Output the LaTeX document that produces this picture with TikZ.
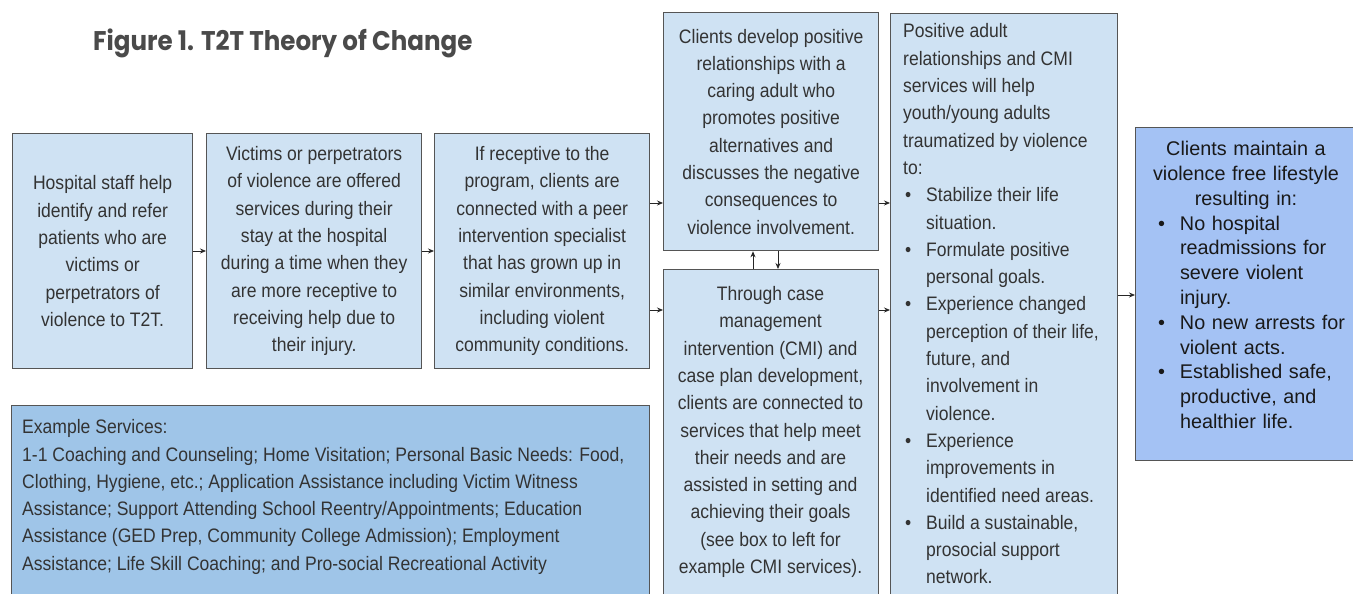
\documentclass[tikz,border=0pt]{standalone}
\usepackage{fontspec}
\setmainfont{Liberation Sans}
\newfontfamily\bodyfont[FakeStretch=0.9]{Liberation Sans}
\newfontfamily\outfont{Liberation Sans}
\newfontfamily\titlefont[FakeStretch=0.91]{Poppins}
\usetikzlibrary{arrows.meta}
\definecolor{paleblue}{HTML}{CFE2F3}
\definecolor{midblue}{HTML}{9FC5E8}
\definecolor{brightblue}{HTML}{A4C2F4}
\definecolor{edgegray}{HTML}{555555}
\definecolor{inkgray}{HTML}{333333}
\definecolor{titlegray}{HTML}{4A4A4A}
% bullet with its hanging indent
\newcommand{\bitem}[2]{\makebox[#1][l]{\hspace*{#2}\textbullet}}
\begin{document}
\begin{tikzpicture}[x=1pt,y=-1pt,
  box/.style={draw=edgegray, line width=1.3pt, fill=paleblue, rectangle,
    inner sep=0pt, anchor=north west},
  gtext/.style={font=\bodyfont\fontsize{19.5}{27.3}\selectfont, text=inkgray,
    inner sep=0pt},
  ctext/.style={gtext, align=center},
  arr/.style={-{Stealth[length=6pt,width=5pt]}, line width=0.8pt, draw=black!85},
]
\clip (0,0) rectangle (1353,594);

% title
\node[font=\titlefont\bfseries\fontsize{27}{30}\selectfont, text=titlegray,
  anchor=base west, inner sep=0pt] (title) at (93,50.5) {Figure 1. T2T Theory of Change};

% boxes
\node[box, minimum width=180pt, minimum height=235pt] (b1) at (12,133) {};
\node[box, minimum width=215pt, minimum height=235pt] (b2) at (206,133) {};
\node[box, minimum width=215pt, minimum height=235pt] (b3) at (434,133) {};
\node[box, minimum width=215pt, minimum height=238pt] (b4) at (663,12) {};
\node[box, minimum width=215pt, minimum height=326pt] (b5) at (663,269) {};
\node[box, minimum width=227pt, minimum height=590pt] (b6) at (890,13) {};
\node[box, fill=brightblue, minimum width=225pt, minimum height=333pt] (b7) at (1135,127) {};
\node[box, fill=midblue, minimum width=638pt, minimum height=210pt] (b8) at (10.5,405) {};

% box texts
\node[ctext] (t1) at (b1.center) {Hospital staff help\\identify and refer\\patients who are\\victims or\\perpetrators of\\violence to T2T.};
\node[ctext] (t2) at (b2.center) {Victims or perpetrators\\of violence are offered\\services during their\\stay at the hospital\\during a time when they\\are more receptive to\\receiving help due to\\their injury.};
\node[ctext] (t3) at (b3.center) {If receptive to the\\program, clients are\\connected with a peer\\intervention specialist\\that has grown up in\\similar environments,\\including violent\\community conditions.};
\node[ctext] (t4) at (b4.center) {Clients develop positive\\relationships with a\\caring adult who\\promotes positive\\alternatives and\\discusses the negative\\consequences to\\violence involvement.};
\node[ctext] (t5) at (770.5,432) {Through case\\management\\intervention (CMI) and\\case plan development,\\clients are connected to\\services that help meet\\their needs and are\\assisted in setting and\\achieving their goals\\(see box to left for\\example CMI services).};
\node[gtext, align=left, anchor=west] (t6) at (903,304) {Positive adult\\relationships and CMI\\services will help\\youth/young adults\\traumatized by violence\\to:\\
\bitem{23pt}{2pt}Stabilize their life\\\hspace*{23pt}situation.\\
\bitem{23pt}{2pt}Formulate positive\\\hspace*{23pt}personal goals.\\
\bitem{23pt}{2pt}Experience changed\\\hspace*{23pt}perception of their life,\\\hspace*{23pt}future, and\\\hspace*{23pt}involvement in\\\hspace*{23pt}violence.\\
\bitem{23pt}{2pt}Experience\\\hspace*{23pt}improvements in\\\hspace*{23pt}identified need areas.\\
\bitem{23pt}{2pt}Build a sustainable,\\\hspace*{23pt}prosocial support\\\hspace*{23pt}network.};
\node[font=\outfont\fontsize{19.8}{24.8}\selectfont, text=black!90, inner sep=0pt,
  text width=204pt] (t7) at (1246,285) {%
  {\centering Clients maintain a\\violence free lifestyle\\resulting in:\par}
  \raggedright
  \bitem{36pt}{14pt}No hospital\\\hspace*{36pt}readmissions for\\\hspace*{36pt}severe violent\\\hspace*{36pt}injury.\\
  \bitem{36pt}{14pt}No new arrests for\\\hspace*{36pt}violent acts.\\
  \bitem{36pt}{14pt}Established safe,\\\hspace*{36pt}productive, and\\\hspace*{36pt}healthier life.\par};
\node[gtext, align=left, anchor=west] (t8) at (22,497) {Example Services:\\1-1 Coaching and Counseling; Home Visitation; Personal Basic Needs: Food,\\Clothing, Hygiene, etc.; Application Assistance including Victim Witness\\Assistance; Support Attending School Reentry/Appointments; Education\\Assistance (GED Prep, Community College Admission); Employment\\Assistance; Life Skill Coaching; and Pro-social Recreational Activity};

% connectors
\draw[arr] (b1.east |- 0,251) -- (b2.west |- 0,251);
\draw[arr] (b2.east |- 0,251) -- (b3.west |- 0,251);
\draw[arr] (b3.east |- 0,203) -- (b4.west |- 0,203);
\draw[arr] (b3.east |- 0,310) -- (b5.west |- 0,310);
\draw[arr] (b4.east |- 0,203) -- (b6.west |- 0,203);
\draw[arr] (b5.east |- 0,310) -- (b6.west |- 0,310);
\draw[arr] (b6.east |- 0,295) -- (b7.west |- 0,295);
\draw[arr] (b5.north -| 753,0) -- (b4.south -| 753,0);
\draw[arr] (b4.south -| 778,0) -- (b5.north -| 778,0);
\end{tikzpicture}
\end{document}
